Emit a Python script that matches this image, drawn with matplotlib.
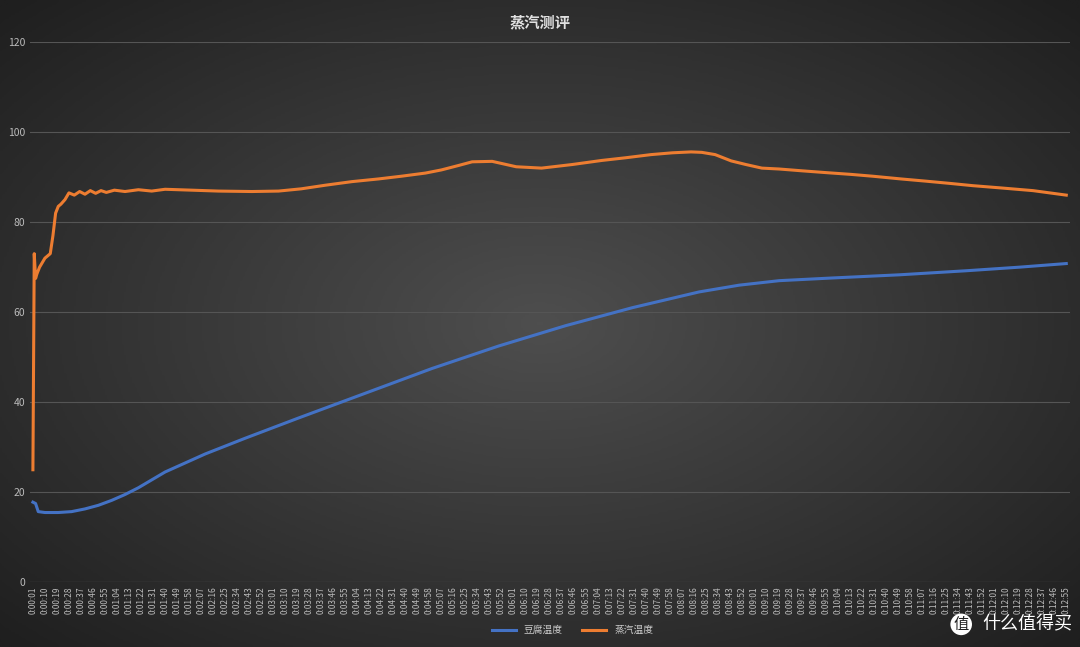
import numpy as np
import matplotlib.pyplot as plt

plt.rcParams['font.family'] = ['Noto Sans CJK SC', 'DejaVu Sans']

# seconds since start
steam_t = [1, 2, 3, 4, 6, 10, 14, 16, 18, 20, 22, 25, 28, 32, 36, 40, 44, 48, 52, 56, 62, 70, 80, 90,
           100, 120, 140, 165, 185, 202, 220, 240, 260, 277, 295, 307, 320, 330, 345, 363, 382,
           405, 427, 445, 464, 480, 494, 502, 512, 524, 535, 547, 560, 577, 595, 614, 630, 651,
           670, 688, 705, 726, 750, 775]
steam_v = [25, 73, 67.5, 68.5, 70, 72, 73, 77, 82, 83.5, 84, 85, 86.5, 86, 86.8, 86.2, 87, 86.4, 87,
           86.6, 87.1, 86.8, 87.2, 86.9, 87.3, 87.1, 86.9, 86.8, 86.9, 87.4, 88.2, 89, 89.6, 90.2,
           90.9, 91.6, 92.6, 93.4, 93.5, 92.3, 92.0, 92.8, 93.7, 94.3, 95.0, 95.4, 95.6, 95.5,
           95.0, 93.6, 92.8, 92.0, 91.8, 91.4, 91.0, 90.6, 90.2, 89.6, 89.1, 88.6, 88.1, 87.6,
           87.0, 86.0]
tofu_t = [1, 3, 5, 10, 20, 30, 40, 50, 60, 70, 80, 100, 130, 160, 200, 250, 300, 350, 400, 450,
          500, 530, 560, 600, 650, 700, 740, 775]
tofu_v = [17.8, 17.5, 15.7, 15.5, 15.5, 15.7, 16.3, 17.1, 18.2, 19.5, 21, 24.5, 28.5, 32, 36.5,
          42, 47.5, 52.5, 57, 61, 64.5, 66, 67, 67.6, 68.3, 69.2, 70, 70.8]
tick_secs = list(range(1, 776, 9))
tick_labels = [f"0:{s // 60:02d}:{s % 60:02d}" for s in tick_secs]

fig = plt.figure(figsize=(10.8, 6.47), dpi=100)
bg = fig.add_axes([0, 0, 1, 1])
yy, xx = np.mgrid[-1:1:300j, -1:1:500j]
r = np.sqrt(xx**2 + yy**2)
bg.imshow(np.clip(r / 1.4, 0, 1), cmap=plt.cm.colors.LinearSegmentedColormap.from_list(
    'g', ['#4e4e4e', '#1f1f1f']), aspect='auto', extent=[0, 1, 0, 1])
bg.axis('off')

ax = fig.add_axes([0.028, 0.1, 0.963, 0.835])
ax.patch.set_alpha(0)
ax.plot(tofu_t, tofu_v, color='#4472c4', lw=2.2, label='豆腐温度')
ax.plot(steam_t, steam_v, color='#ed7d31', lw=2.2, label='蒸汽温度')
ax.set_xlim(-1, 778)
ax.set_ylim(0, 120)
ax.set_yticks(range(0, 121, 20))
ax.set_xticks(tick_secs)
ax.set_xticklabels(tick_labels, rotation=90, fontsize=6, color='#bbbbbb')
ax.tick_params(axis='y', labelsize=7.5, colors='#bbbbbb', length=0)
ax.tick_params(axis='x', length=0, pad=3)
ax.grid(axis='y', color='#555555', lw=0.8)
for s in ax.spines.values():
    s.set_visible(False)
ax.axhline(0, color='#666666', lw=0.8)

fig.text(0.5, 0.965, '蒸汽测评', ha='center', va='center', color='#e0e0e0', fontsize=11, weight='bold')
fig.legend(loc='lower center', bbox_to_anchor=(0.53, 0.005), ncol=2, frameon=False,
           fontsize=7, labelcolor='#cccccc', handlelength=2.5)
fig.text(0.89, 0.035, '值', color='#222222', fontsize=11, ha='center', va='center',
         bbox=dict(boxstyle='circle,pad=0.15', fc='white', ec='none'))
fig.text(0.91, 0.035, '什么值得买', color='white', fontsize=13, va='center')

fig.savefig('out.png', dpi=100)
